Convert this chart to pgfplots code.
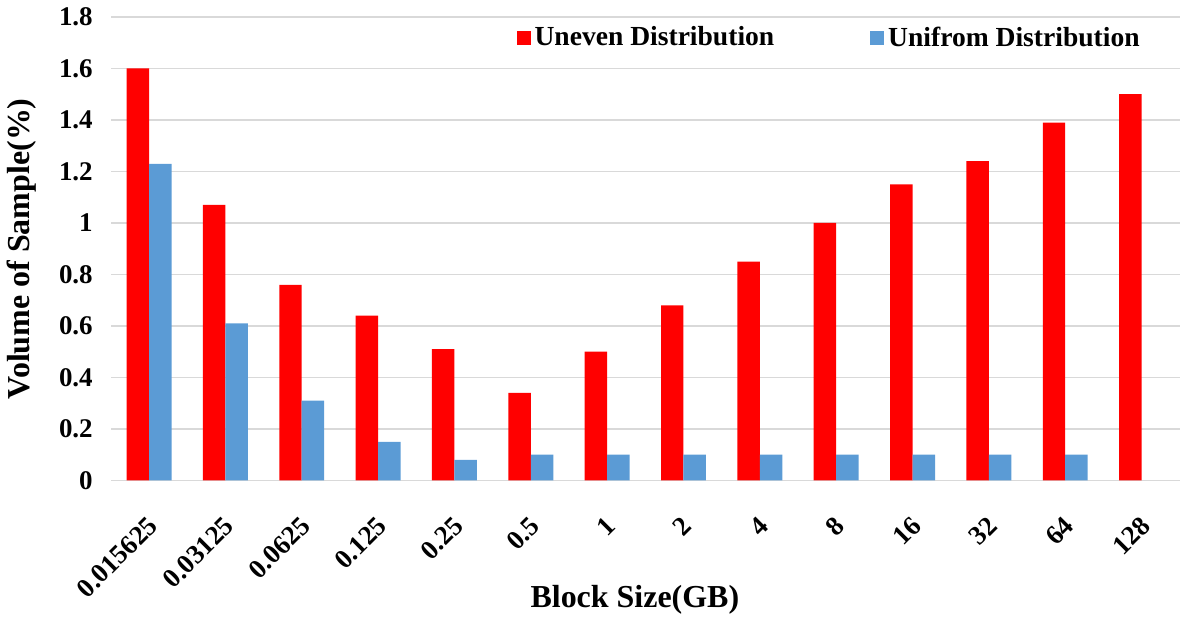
\documentclass[border=0pt]{standalone}
\usepackage{pgfplots}
\pgfplotsset{compat=1.18}
\usepackage{fontspec}
\setmainfont{Liberation Serif}
\definecolor{myred}{HTML}{FF0000}
\definecolor{myblue}{HTML}{5B9BD5}
\definecolor{mygrid}{HTML}{D9D9D9}
\begin{document}
\begin{tikzpicture}
\begin{axis}[
  scale only axis,
  width=535pt, height=232pt,
  xmin=-0.5, xmax=13.5,
  ymin=0, ymax=1.8,
  ytick={0,0.2,0.4,0.6,0.8,1,1.2,1.4,1.6,1.8},
  xtick={0,...,13},
  xticklabels={0.015625,0.03125,0.0625,0.125,0.25,0.5,1,2,4,8,16,32,64,128},
  /pgf/number format/assume math mode=true,
  ticklabel style={font=\fontsize{13.5}{15}\selectfont\bfseries},
  xticklabel style={rotate=45, anchor=north east, inner sep=0pt, xshift=-10pt, yshift=-8pt},
  yticklabel style={inner sep=0pt, xshift=-9pt},
  axis line style={draw=none},
  tick style={draw=none},
  ymajorgrids=true,
  major grid style={draw=mygrid, line width=0.8pt},
  ybar, bar width=11.25pt,
  xlabel={Block Size(GB)},
  ylabel={Volume of Sample(\%)},
  every axis x label/.style={at={(axis description cs:0.49,-0.2565)}, anchor=center, font=\fontsize{16}{18}\selectfont\bfseries},
  every axis y label/.style={at={(axis description cs:-0.084,0.5)}, rotate=90, anchor=center, font=\fontsize{16}{18}\selectfont\bfseries},
  legend style={at={(axis description cs:0.972,0.955)}, anchor=east, draw=none, fill=none,
    font=\fontsize{13.8}{15}\selectfont\bfseries, legend columns=2,
    /tikz/every even column/.append style={column sep=46pt}},
  legend image code/.code={\fill[#1] (0pt,-3.5pt) rectangle (7pt,3.5pt);},
]
\addplot[fill=myred, draw=none, bar shift=-5.75pt] coordinates {
(0,1.60) (1,1.07) (2,0.76) (3,0.64) (4,0.51) (5,0.34) (6,0.50) (7,0.68) (8,0.85) (9,1.00) (10,1.15) (11,1.24) (12,1.39) (13,1.50)};
\addplot[fill=myblue, draw=none, bar shift=5.5pt] coordinates {
(0,1.23) (1,0.61) (2,0.31) (3,0.15) (4,0.08) (5,0.10) (6,0.10) (7,0.10) (8,0.10) (9,0.10) (10,0.10) (11,0.10) (12,0.10)};
\legend{Uneven Distribution, Unifrom Distribution}
\end{axis}
\path[use as bounding box] ([shift={(-55pt,-69.5pt)}]current axis.south west) rectangle ([shift={(0.5pt,8.5pt)}]current axis.north east);
\end{tikzpicture}
\end{document}
